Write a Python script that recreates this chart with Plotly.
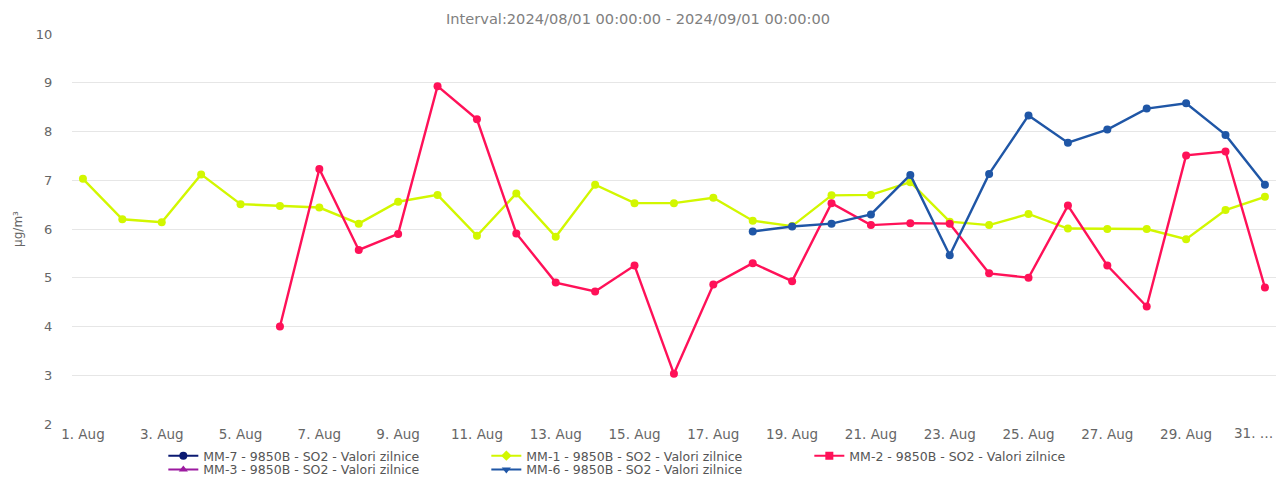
import plotly.graph_objects as go

days = [f"2024-08-{d:02d}" for d in range(1, 32)]

mm1 = [7.03, 6.20, 6.14, 7.12, 6.51, 6.47, 6.44, 6.11, 6.56, 6.70,
       5.86, 6.73, 5.84, 6.91, 6.53, 6.53, 6.64, 6.17, 6.06, 6.69,
       6.70, 6.96, 6.15, 6.08, 6.31, 6.01, 6.00, 6.00, 5.79, 6.39, 6.66]

mm2 = [None, None, None, None, None, 4.00, 7.23, 5.57, 5.90, 8.93,
       8.25, 5.91, 4.90, 4.72, 5.25, 3.03, 4.86, 5.30, 4.93, 6.53,
       6.08, 6.12, 6.11, 5.09, 5.00, 6.48, 5.25, 4.41, 7.51, 7.59, 4.80]

mm6 = [None] * 17 + [5.95, 6.05, 6.11, 6.30, 7.11, 5.46, 7.13, 8.33, 7.77,
                     8.04, 8.47, 8.58, 7.93, 6.91]

tick_vals = [f"2024-08-{d:02d}" for d in range(1, 32, 2)]
tick_text = [f"{d}. Aug" for d in range(1, 30, 2)] + ["31. …"]

names = {
    "mm7": "MM-7 - 9850B - SO2 - Valori zilnice",
    "mm1": "MM-1 - 9850B - SO2 - Valori zilnice",
    "mm2": "MM-2 - 9850B - SO2 - Valori zilnice",
    "mm3": "MM-3 - 9850B - SO2 - Valori zilnice",
    "mm6": "MM-6 - 9850B - SO2 - Valori zilnice",
}
colors = {"mm7": "#0b1a72", "mm1": "#d2f700", "mm2": "#ff1158",
          "mm3": "#9c1aa0", "mm6": "#1f56a6"}
symbols = {"mm7": "circle", "mm1": "diamond", "mm2": "square",
           "mm3": "triangle-up", "mm6": "triangle-down"}
legend_rows = {"mm7": "legend", "mm1": "legend", "mm2": "legend",
               "mm3": "legend2", "mm6": "legend2"}

FONT = "DejaVu Sans, Liberation Sans, Arial, sans-serif"

fig = go.Figure()

series = {"mm1": mm1, "mm2": mm2, "mm6": mm6}
for key, vals in series.items():
    fig.add_trace(go.Scatter(
        x=days, y=vals, mode="lines+markers", showlegend=False,
        line=dict(color=colors[key], width=2.4),
        marker=dict(color=colors[key], size=8, symbol="circle"),
        connectgaps=False, cliponaxis=False))

for key in ["mm7", "mm1", "mm2", "mm3", "mm6"]:
    fig.add_trace(go.Scatter(
        x=[None], y=[None], mode="lines+markers", name=names[key],
        legend=legend_rows[key],
        line=dict(color=colors[key], width=2),
        marker=dict(color=colors[key], size=8, symbol=symbols[key])))

legend_common = dict(orientation="h", xref="container", x=0.128,
                     xanchor="left", yref="container", yanchor="middle",
                     entrywidth=278, entrywidthmode="pixels",
                     bgcolor="rgba(0,0,0,0)",
                     font=dict(size=12.5, color="#555555"), itemwidth=30)

# the last tick label is drawn inside the chart's right edge (as in the reference)
axis_ticktext = tick_text[:-1] + [""]

fig.update_layout(
    width=1276, height=477,
    margin=dict(l=72, r=0, t=34, b=53, autoexpand=False),
    paper_bgcolor="white", plot_bgcolor="white",
    font=dict(family=FONT, color="#666666", size=13),
    title=dict(text="Interval:2024/08/01 00:00:00 - 2024/09/01 00:00:00",
               x=0.5, xanchor="center", y=0.96, yanchor="middle",
               font=dict(size=14.6, color="#808080")),
    xaxis=dict(type="date", automargin=False,
               range=["2024-07-31 17:20", "2024-08-31 06:45"],
               tickvals=tick_vals, ticktext=axis_ticktext,
               showgrid=False, zeroline=False, showline=False,
               ticks="", tickfont=dict(size=13.5, color="#666666")),
    yaxis=dict(range=[2, 10], dtick=1, showgrid=True, gridcolor="#e6e6e6",
               gridwidth=1, zeroline=False, showline=False, ticks="outside",
               ticklen=16, tickcolor="white", automargin=False,
               tickfont=dict(size=13, color="#666666"),
               title=dict(text="µg/m³", font=dict(size=12, color="#666666"),
                          standoff=10)),
    legend=dict(y=0.044, **legend_common),
    legend2=dict(y=0.015, **legend_common),
    annotations=[dict(x=tick_vals[-1], xref="x", y=0, yref="paper",
                      yanchor="top", xanchor="right", xshift=10, yshift=1,
                      text=tick_text[-1], showarrow=False,
                      font=dict(size=13.5, color="#666666"))],
)

fig.write_html("out.html", config={"displayModeBar": False},
               post_script="document.body.style.margin='0px';document.body.style.overflow='hidden';")
